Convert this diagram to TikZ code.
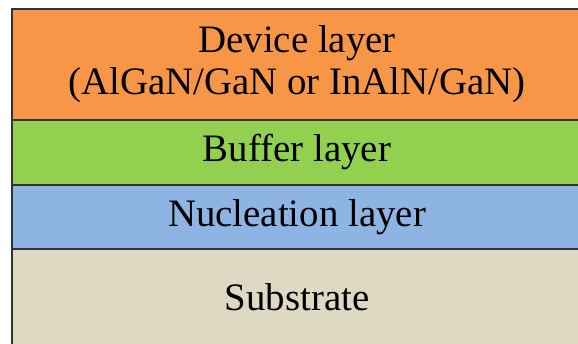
\documentclass[tikz,border=0pt]{standalone}
\usepackage{fontspec}
\setmainfont{Liberation Serif}
\usetikzlibrary{positioning}
\definecolor{devorange}{HTML}{F79646}
\definecolor{bufgreen}{HTML}{92D050}
\definecolor{nucblue}{HTML}{8DB4E2}
\definecolor{subbeige}{HTML}{DDD9C3}
\tikzset{
  layer/.style={draw=black!80,line width=1.5bp,minimum width=570bp,inner sep=0pt,
    outer sep=0pt,align=center,font=\fontsize{39}{42}\selectfont},
  dev/.style={layer,fill=devorange,minimum height=111bp},
  buf/.style={layer,fill=bufgreen,minimum height=65bp},
  nuc/.style={layer,fill=nucblue,minimum height=64bp},
  sub/.style={layer,fill=subbeige,minimum height=96bp},
}

\begin{document}
\begin{tikzpicture}[x=1bp,y=1bp]
  \useasboundingbox (0,0) rectangle (578,343);
  \clip (0,0) rectangle (578,343);
  % layer stack, top to bottom
  \node[dev,anchor=north west] (device) at (12,334) {Device layer\\(AlGaN/GaN or InAlN/GaN)};
  \node[buf,below=0pt of device] (buffer) {Buffer layer};
  \node[nuc,below=0pt of buffer] (nucl) {Nucleation layer};
  \node[sub,below=0pt of nucl] (substrate) {Substrate};
\end{tikzpicture}
\end{document}
